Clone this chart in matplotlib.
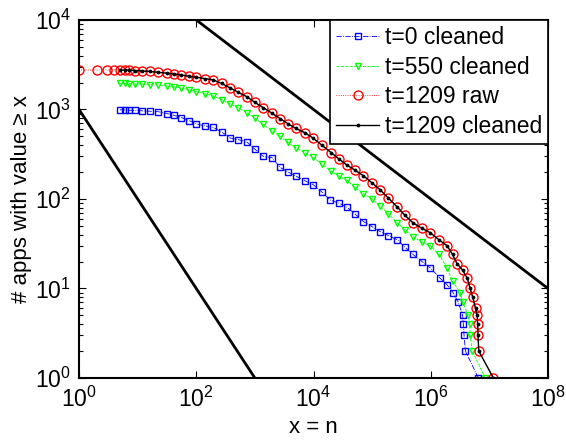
import matplotlib
matplotlib.use("Agg")
import matplotlib.pyplot as plt
from matplotlib.ticker import LogLocator, NullLocator

plt.rcParams['font.family'] = ['Liberation Sans', 'DejaVu Sans']
plt.rcParams['mathtext.fontset'] = 'custom'
plt.rcParams['mathtext.rm'] = 'Liberation Sans'
plt.rcParams['mathtext.it'] = 'Liberation Sans'

# CCDF values
t0_x = [5, 6, 7, 9, 12, 16, 22, 32, 42, 56, 76, 100, 140, 195, 270, 380, 525, 740,
        1000, 1380, 1950, 2700, 3700, 5000, 7100, 9800, 13800, 19000, 27000, 37000,
        51000, 71000, 100000, 138000, 190000, 270000, 360000, 500000, 710000, 980000,
        1.45e6, 1.9e6, 2.4e6, 2.95e6, 3.5e6, 3.6e6, 3.7e6, 3.9e6, 6.5e6]
t0_y = [990, 985, 980, 975, 965, 955, 945, 900, 860, 810, 750, 690, 655, 630, 560, 480, 460, 430,
        360, 300, 290, 225, 200, 180, 160, 145, 120, 98, 90, 81,
        68, 56, 49, 43, 39, 35, 29, 24, 20, 17,
        13, 11, 9, 7, 5, 4, 3, 2, 1]

t550_x = [5, 6, 7, 9, 12, 16, 22, 32, 42, 56, 76, 100, 140, 195, 270, 380, 525, 740,
          1000, 1380, 1950, 2700, 3700, 5000, 7100, 9800, 13800, 20000, 27000, 37000,
          51000, 71000, 100000, 138000, 190000, 270000, 360000, 500000, 710000, 980000,
          1.38e6, 1.9e6, 2.35e6, 3.2e6, 3.5e6, 4.4e6, 4.6e6, 4.7e6, 5.1e6, 8.5e6]
t550_y = [1950, 1950, 1940, 1930, 1920, 1900, 1880, 1830, 1780, 1740, 1660, 1580, 1500, 1410, 1290, 1150, 1040, 920,
          800, 680, 580, 500, 430, 370, 330, 295, 245, 205, 180, 162,
          135, 115, 100, 83, 68, 54, 45, 38, 33, 30,
          24, 17, 12, 9, 7, 5, 4, 3, 2, 1]

t1209_x = [5, 6, 7, 9, 12, 16, 22, 32, 42, 56, 76, 100, 140, 195, 270, 380, 525, 740,
           1000, 1380, 1950, 2700, 3700, 5000, 7100, 9800, 13800, 20000, 27000, 37000,
           51000, 71000, 100000, 138000, 190000, 270000, 360000, 500000, 710000, 980000,
           1.38e6, 1.9e6, 2.35e6, 2.8e6, 3.5e6, 4.2e6, 4.7e6, 5.2e6, 5.8e6, 6.2e6,
           6.3e6, 6.4e6, 6.6e6, 1.17e7]
t1209_y = [2750, 2750, 2750, 2720, 2690, 2660, 2600, 2540, 2480, 2430, 2340, 2290, 2210, 2140, 1950, 1740, 1550, 1380,
           1200, 1050, 910, 790, 690, 615, 550, 480, 400, 330, 280, 240,
           210, 182, 151, 126, 102, 81, 66, 54, 47, 42,
           35, 30, 24, 19, 16, 13, 10, 8, 6, 5,
           4, 3, 2, 1]

raw_x = [1, 2, 3, 4] + t1209_x
raw_y = [2760, 2760, 2760, 2760] + t1209_y

# power-law guide lines
guide1_x = [1, 1000]
guide1_y = [1000, 1]
guide2_x = [100, 1e8]
guide2_y = [1e4, 10]

x_ticks = [1, 1e2, 1e4, 1e6, 1e8]
y_ticks = [1, 10, 100, 1000, 1e4]

fig = plt.figure(figsize=(5.66, 4.43), dpi=100)
ax = fig.add_axes([0.1396, 0.1467, 0.8286, 0.8083])

ax.plot(t0_x, t0_y, color='b', ls='-.', lw=0.6, marker='s', ms=4, mfc='none', mew=1.0,
        label='t=0 cleaned')
ax.plot(t550_x, t550_y, color='#00ff00', ls='--', lw=0.6, marker='v', ms=5, mfc='none', mew=1.0,
        label='t=550 cleaned')
ax.plot(raw_x, raw_y, color='r', ls=':', lw=0.6, marker='o', ms=6.5, mfc='none', mew=1.0,
        label='t=1209 raw')
ax.plot(t1209_x, t1209_y, color='k', ls='-', lw=1.0, marker='.', ms=3.5,
        label='t=1209 cleaned')

ax.plot(guide1_x, guide1_y, color='k', lw=2)
ax.plot(guide2_x, guide2_y, color='k', lw=2)

ax.set_xscale('log')
ax.set_yscale('log')
ax.set_xlim(1, 1e8)
ax.set_ylim(1, 1e4)
ax.set_xticks(x_ticks)
ax.set_yticks(y_ticks)
ax.xaxis.set_minor_locator(NullLocator())
ax.yaxis.set_minor_locator(LogLocator(base=10, subs=range(2, 10)))
ax.yaxis.set_minor_formatter(plt.NullFormatter())

ax.tick_params(which='both', direction='in', top=True, right=True, labelsize=16.5, width=0.8)
ax.tick_params(which='major', length=5, pad=6)
ax.tick_params(which='minor', length=3)
for s in ax.spines.values():
    s.set_linewidth(1.5)

ax.set_xlabel('x = n', fontsize=16, labelpad=4)
ax.set_ylabel('# apps with value \u2265 x', fontsize=16, labelpad=2)

leg = ax.legend(loc='upper right', fontsize=16.5, fancybox=False, framealpha=1,
                edgecolor='k', borderaxespad=0, handlelength=1.9, borderpad=0.25,
                labelspacing=0.3, handletextpad=0.25)
leg.get_frame().set_linewidth(1.2)

fig.savefig('out.png', dpi=100)
